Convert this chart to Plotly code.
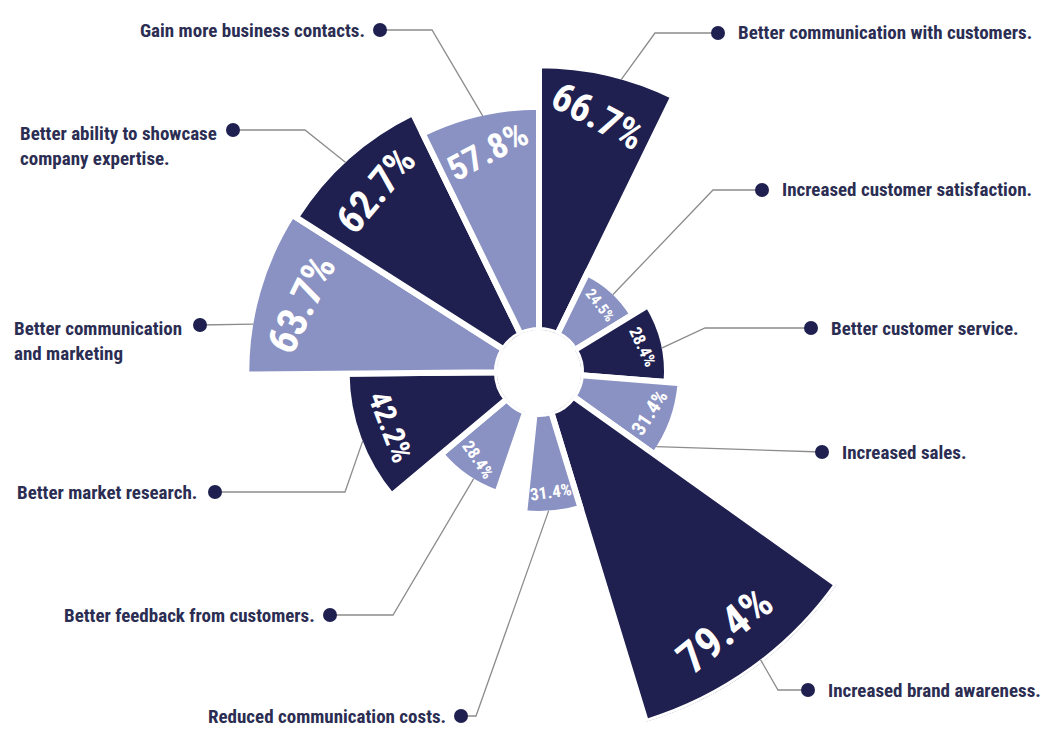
import math
import plotly.graph_objects as go

# ---- data -------------------------------------------------------------
categories = [
    "Better communication with customers.",
    "Increased customer satisfaction.",
    "Better customer service.",
    "Increased sales.",
    "Increased brand awareness.",
    "Reduced communication costs.",
    "Better feedback from customers.",
    "Better market research.",
    "Better communication<br>and marketing",
    "Better ability to showcase<br>company expertise.",
    "Gain more business contacts.",
]
values = [66.7, 24.5, 28.4, 31.4, 79.4, 31.4, 28.4, 42.2, 63.7, 62.7, 57.8]
value_labels = ["66.7%", "24.5%", "28.4%", "31.4%", "79.4%", "31.4%",
                "28.4%", "42.2%", "63.7%", "62.7%", "57.8%"]

# ---- styling / layout -------------------------------------------------
W, H = 1041, 738
CX, CY = 539, 372          # centre of the rose (px)
R_PX = 366                 # outer radius of the polar area (px)
HOLE = 0.115               # hole as a fraction of the radius
R_RANGE = [10, 79.4]

DARK = "#1f2050"
LIGHT = "#8a92c3"
TEXT = "#2b2d52"
LINE = "#8c8c8c"
FONT = "Roboto Condensed, Liberation Sans Narrow, DejaVu Sans Condensed, sans-serif"

colors = [DARK, LIGHT, DARK, LIGHT, DARK, LIGHT, LIGHT, DARK, LIGHT, DARK, LIGHT]

# wedge sectors (start, end) in degrees, clockwise from 12 o'clock
sectors = [(0, 26), (26, 58.5), (58.5, 94.5), (94.5, 125.5), (125.5, 163),
           (163, 186), (199, 230), (230, 269.5), (269.5, 302.5),
           (302.5, 334), (334, 360)]
theta = [(a + b) / 2 for a, b in sectors]
widths = [b - a for a, b in sectors]

# in-wedge percentage labels
pct_sizes = [40, 15, 17, 20, 44, 17, 17, 30, 42, 40, 35]
pct_angles = [28, 52, 65, -57, -39, -8, 56, 69, -64, -50, -28]

# outside labels: dot position, side, elbow of the leader line, leader angle
label_dots = [(718, 33), (762, 190), (811, 328), (822, 452), (808, 690),
              (461, 716), (330, 615), (215, 492), (200, 325), (233, 130),
              (380, 30)]
label_side = ["right", "right", "right", "right", "right",
              "left", "left", "left", "left", "left", "left"]
elbows = [(655, 33), (713, 190), (705, 328), None, (778, 690),
          (476, 716), (393, 615), (345, 492), None, (305, 130), (432, 30)]
leader_theta = [15.7, 43.7, 79, 122.5, 142.4, 176, 211.5, 248.6, 279.5,
                317.3, 347.6]
text_left_x = [738, 778, 830, 845, 825, None, None, 15, 12, 18, None]
LABEL_SIZE = 19


def r_to_px(r):
    hole_px = HOLE * R_PX
    return hole_px + (r - R_RANGE[0]) / (R_RANGE[1] - R_RANGE[0]) * (R_PX - hole_px)


def polar_px(th, r_px):
    t = math.radians(th)
    return CX + r_px * math.sin(t), CY - r_px * math.cos(t)


def px(x, y):
    return x / W, 1 - y / H


fig = go.Figure()
fig.add_trace(go.Barpolar(
    r=values, theta=theta, width=widths,
    marker=dict(color=colors, line=dict(color="white", width=6)),
    hovertext=categories, hoverinfo="text",
))

annotations = []
shapes = []

# percentage labels inside the wedges
for th, v, txt, fs, ang in zip(theta, values, value_labels, pct_sizes, pct_angles):
    rp = r_to_px(v) - fs - 4
    x, y = polar_px(th, rp)
    xp, yp = px(x, y)
    annotations.append(dict(
        x=xp, y=yp, xref="paper", yref="paper", text=txt, showarrow=False,
        textangle=ang, xanchor="center", yanchor="middle",
        font=dict(family=FONT, size=fs, color="white", weight=700),
    ))

# leader lines, dots and category labels
for i, cat in enumerate(categories):
    dx, dy = label_dots[i]
    ax, ay = polar_px(leader_theta[i], r_to_px(values[i]) - 3)
    pts = [(dx, dy)]
    if elbows[i] is not None:
        pts.append(elbows[i])
    pts.append((ax, ay))
    path = "M " + " L ".join(f"{px(x, y)[0]:.5f},{px(x, y)[1]:.5f}" for x, y in pts)
    shapes.append(dict(type="path", path=path, xref="paper", yref="paper",
                       line=dict(color=LINE, width=1.3), layer="above"))
    rad = 7
    x0, y0 = px(dx - rad, dy + rad)
    x1, y1 = px(dx + rad, dy - rad)
    shapes.append(dict(type="circle", xref="paper", yref="paper",
                       x0=x0, y0=y0, x1=x1, y1=y1,
                       fillcolor=DARK, line=dict(width=0), layer="above"))
    lines = cat.count("<br>") + 1
    if label_side[i] == "right":
        tx, anchor = dx + 18, "left"
    elif text_left_x[i] is not None:
        tx, anchor = text_left_x[i], "left"
    else:
        tx, anchor = dx - 13, "right"
    ty = dy + (lines - 1) * 16
    xp, yp = px(tx, ty)
    annotations.append(dict(
        x=xp, y=yp, xref="paper", yref="paper", text=cat, showarrow=False,
        xanchor=anchor, yanchor="middle", align="left",
        font=dict(family=FONT, size=LABEL_SIZE, color=TEXT, weight=700),
    ))

fig.update_layout(
    width=W, height=H,
    margin=dict(l=0, r=0, t=0, b=0),
    paper_bgcolor="white",
    showlegend=False,
    polar=dict(
        domain=dict(x=[(CX - R_PX) / W, (CX + R_PX) / W],
                    y=[max(0.0, (H - CY - R_PX) / H), min(1.0, (H - CY + R_PX) / H)]),
        hole=HOLE,
        bgcolor="white",
        radialaxis=dict(range=R_RANGE, visible=False),
        angularaxis=dict(rotation=90, direction="clockwise", visible=False),
    ),
    annotations=annotations,
    shapes=shapes,
)

fig.write_html("out.html")
